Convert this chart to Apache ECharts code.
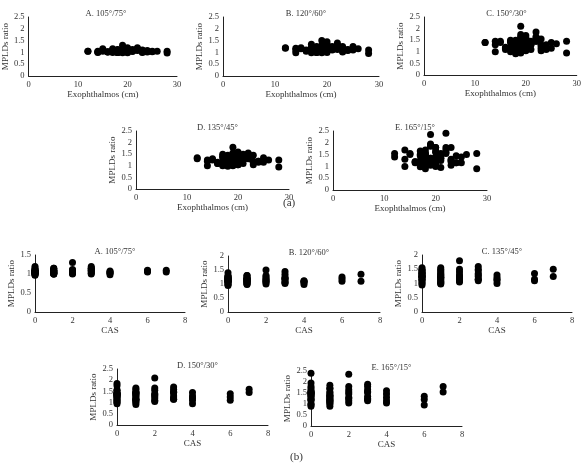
<!DOCTYPE html>
<html>
<head>
<meta charset="utf-8">
<script src="https://cdn.jsdelivr.net/npm/echarts@6/dist/echarts.min.js"></script>
<style>
  html, body { margin: 0; padding: 0; background: #fff; }
  #chart { width: 584px; height: 467px; }
</style>
</head>
<body>
<div id="chart"></div>
<script>
// one entry per eye: exophthalmos (cm), clinical activity score, MPLDs ratio at each angle pair
var exophthalmos = [22,12,14,17,18,18,19,19,20,20,21,23,24,25,26,28,16,17,15,21,
  14,14,16,17,18,18,18,19,19,20,20,21,22,23,24,25,
  19,17,18,20,21,22,23,18,16,
  15,17,18,19,20,21,22,23,17,
  19,20,22,18,24,
  21,23,19,
  28,20,
  12];
var cas = [0,0,0,0,0,0,0,0,0,0,0,0,0,0,0,0,0,0,0,0,
  1,1,1,1,1,1,1,1,1,1,1,1,1,1,1,1,
  2,2,2,2,2,2,2,2,2,
  3,3,3,3,3,3,3,3,3,
  4,4,4,4,4,
  6,6,6,
  7,7,
  1];
var ratio105 = [1.20,1.05,1.02,1.00,1.05,1.10,1.08,1.02,1.15,0.98,1.05,1.10,1.02,1.05,1.05,0.97,1.03,1.06,1.05,1.12,
  1.00,1.05,1.02,1.10,1.00,1.08,1.12,1.04,1.15,1.02,1.10,1.06,1.15,1.00,1.08,1.03,
  1.30,1.05,1.00,1.10,1.08,1.12,1.05,1.06,1.02,
  1.15,1.05,1.00,1.12,1.20,1.08,1.10,1.02,1.15,
  0.98,1.05,1.08,1.02,1.04,
  1.05,1.08,1.10,
  1.05,1.10,
  1.05];
var ratio120 = [1.40,1.20,1.10,0.98,1.10,1.20,1.15,1.05,1.30,1.00,1.12,1.25,1.08,1.25,1.15,0.95,1.10,1.18,1.15,1.25,
  0.98,1.18,1.08,1.20,1.00,1.15,1.25,1.10,1.30,1.05,1.20,1.15,1.30,1.02,1.12,1.10,
  1.50,1.10,1.00,1.25,1.20,1.30,1.15,1.12,1.05,
  1.20,1.08,1.02,1.25,1.45,1.15,1.20,1.05,1.35,
  0.98,1.08,1.12,1.05,1.10,
  1.10,1.18,1.25,
  1.10,1.35,
  1.18];
var ratio135 = [1.55,1.35,1.25,1.00,1.20,1.30,1.40,1.10,1.45,1.05,1.25,1.45,1.15,1.35,1.25,0.95,1.15,1.35,1.25,1.50,
  1.00,1.20,1.10,1.40,0.98,1.30,1.45,1.20,1.55,1.05,1.35,1.25,1.50,1.05,1.20,1.15,
  1.80,1.15,1.05,1.40,1.30,1.50,1.20,1.25,1.10,
  1.30,1.15,1.10,1.45,1.60,1.25,1.35,1.15,1.50,
  1.00,1.15,1.30,1.10,1.20,
  1.10,1.15,1.35,
  1.25,1.50,
  1.30];
var ratio150 = [1.85,1.40,1.30,1.00,1.25,1.35,1.75,1.15,1.55,1.05,1.30,1.55,1.10,1.40,1.35,0.95,1.20,1.40,1.40,1.45,
  1.00,1.45,1.15,1.45,0.92,1.40,1.50,1.25,1.65,1.10,1.30,1.35,1.60,1.05,1.15,1.15,
  2.10,1.20,1.05,1.55,1.40,1.65,1.30,1.35,1.10,
  1.45,1.20,1.15,1.60,1.70,1.30,1.45,1.15,1.50,
  0.95,1.20,1.45,1.10,1.30,
  1.10,1.25,1.40,
  1.45,1.60,
  1.40];
var ratio165 = [2.40,1.55,1.70,0.98,1.30,1.45,1.95,1.20,1.60,1.00,1.35,1.80,1.15,1.40,1.50,0.90,1.20,1.45,1.50,1.55,
  1.00,1.30,1.20,1.50,0.90,1.55,1.70,1.35,1.85,1.10,1.40,1.25,1.70,1.05,1.15,1.15,
  2.35,1.25,1.05,1.65,1.45,1.80,1.30,1.55,1.15,
  1.55,1.20,1.15,1.90,1.80,1.35,1.55,1.25,1.65,
  1.05,1.30,1.60,1.15,1.45,
  0.95,1.20,1.35,
  1.55,1.80,
  1.40];

var titlesA = ['A. 105°/75°', 'B. 120°/60°', 'C. 150°/30°', 'D. 135°/45°', 'E. 165°/15°'];
var titlesB = ['A. 105°/75°', 'B. 120°/60°', 'C. 135°/45°', 'D. 150°/30°', 'E. 165°/15°'];
var ratiosA = [ratio105, ratio120, ratio150, ratio135, ratio165];
var ratiosB = [ratio105, ratio120, ratio135, ratio150, ratio165];
var yMaxB = [1.5, 2, 2, 2.5, 2.5];

var FONT = 'Liberation Serif';
var INK = '#333';

// panel boxes in px
var boxesA = [
    {left: 25,  top: 17,  width: 152, height: 59},
    {left: 223, top: 17,  width: 156, height: 59},
    {left: 424, top: 17,  width: 155, height: 58},
    {left: 136, top: 131, width: 153, height: 58},
    {left: 333, top: 131, width: 154, height: 59}
];
var boxesB = [
    {left: 35,  top: 255, width: 150, height: 57},
    {left: 228, top: 256, width: 152, height: 56},
    {left: 422, top: 255, width: 150, height: 57},
    {left: 117, top: 369, width: 151, height: 56},
    {left: 311, top: 371, width: 151, height: 55}
];

var chart = echarts.init(document.getElementById('chart'), null, {renderer: 'canvas'});

var grids = [], xAxes = [], yAxes = [], series = [], titles = [];

function axisBase() {
    return {
        axisLine: {show: true, onZero: false, lineStyle: {color: '#222', width: 1}},
        axisTick: {show: false},
        splitLine: {show: false},
        axisLabel: {color: INK, fontFamily: FONT, fontSize: 8.5, margin: 4},
        nameTextStyle: {color: INK, fontFamily: FONT, fontSize: 9}
    };
}

function addPanel(box, title, xs, ys, xMax, xInterval, yMax, xName) {
    var i = grids.length;
    grids.push({left: box.left, top: box.top, width: box.width, height: box.height, containLabel: false});
    titles.push({
        text: title,
        left: box.left + box.width / 2,
        top: box.top - 13,
        textAlign: 'center',
        textStyle: {color: INK, fontFamily: FONT, fontSize: 8.5, fontWeight: 'normal'}
    });
    var xa = axisBase();
    xa.gridIndex = i; xa.type = 'value'; xa.min = 0; xa.max = xMax; xa.interval = xInterval;
    xa.name = xName; xa.nameLocation = 'middle'; xa.nameGap = xName === 'CAS' ? 11 : 14;
    xAxes.push(xa);
    var ya = axisBase();
    ya.gridIndex = i; ya.type = 'value'; ya.min = 0; ya.max = yMax; ya.interval = 0.5;
    ya.name = 'MPLDs ratio'; ya.nameLocation = 'middle'; ya.nameGap = 13.5;
    yAxes.push(ya);
    var data = xs.map(function (x, k) { return [x, ys[k]]; });
    series.push({
        type: 'scatter',
        xAxisIndex: i, yAxisIndex: i,
        data: data,
        symbol: 'circle',
        symbolSize: 7,
        itemStyle: {color: '#000', opacity: 1},
        silent: true
    });
}

for (var a = 0; a < 5; a++) {
    addPanel(boxesA[a], titlesA[a], exophthalmos, ratiosA[a], 30, 10, 2.5, 'Exophthalmos (cm)');
}
for (var b = 0; b < 5; b++) {
    addPanel(boxesB[b], titlesB[b], cas, ratiosB[b], 8, 2, yMaxB[b], 'CAS');
}

var option = {
    backgroundColor: '#fff',
    animation: false,
    title: titles,
    grid: grids,
    xAxis: xAxes,
    yAxis: yAxes,
    series: series,
    graphic: [
        {type: 'text', left: 283, top: 198, style: {text: '(a)', fill: INK, font: '11px "Liberation Serif"'}},
        {type: 'text', left: 290, top: 452, style: {text: '(b)', fill: INK, font: '11px "Liberation Serif"'}}
    ]
};
chart.setOption(option);
</script>
</body>
</html>
